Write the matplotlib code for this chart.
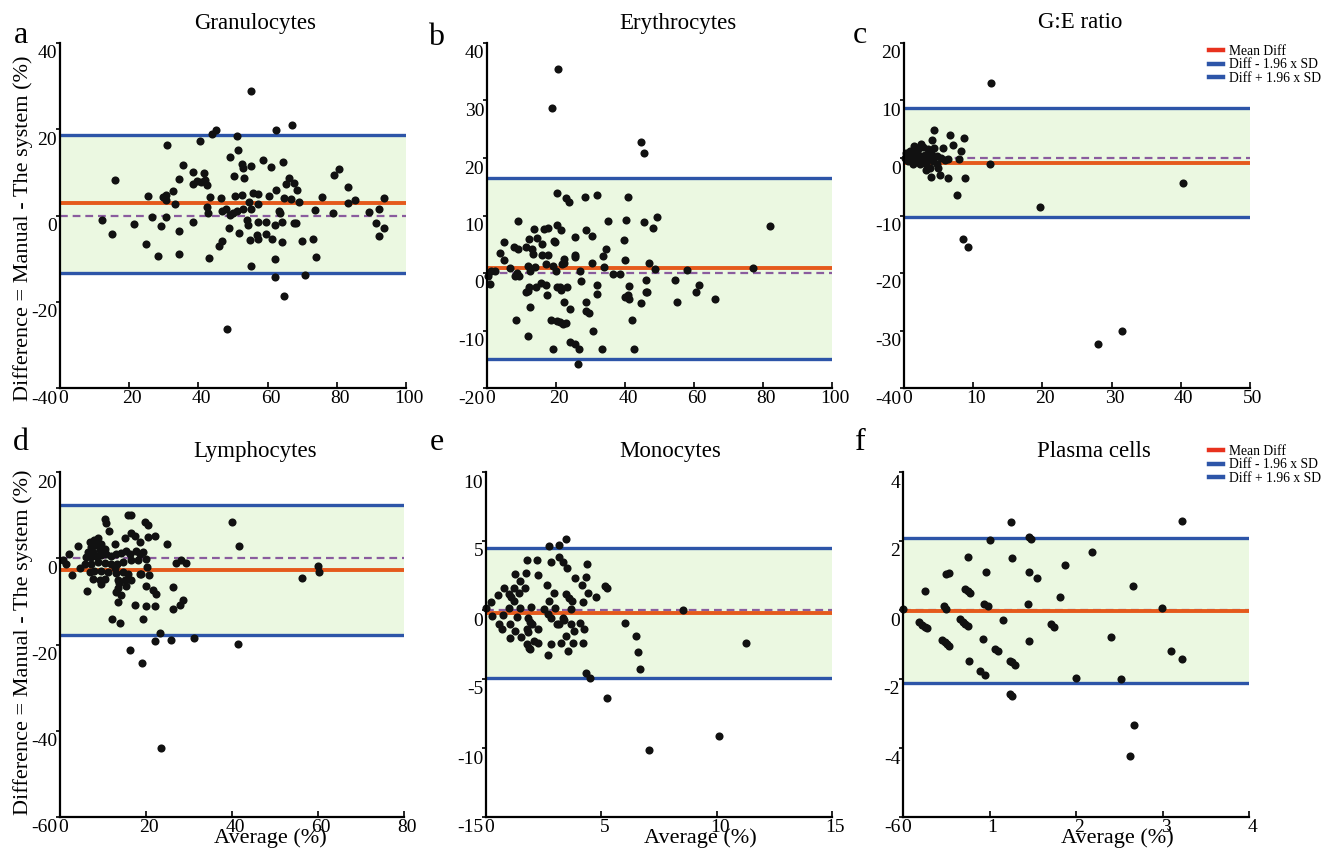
import matplotlib
matplotlib.use('Agg')
import matplotlib.pyplot as plt
import matplotlib.transforms as mtransforms
from matplotlib.lines import Line2D

plt.rcParams['font.family'] = ['Liberation Serif', 'DejaVu Serif']
plt.rcParams['axes.unicode_minus'] = False

# ---------------- data ----------------
titles = ["Granulocytes", "Erythrocytes", "G:E ratio", "Lymphocytes", "Monocytes", "Plasma cells"]
panel_letters = ["a", "b", "c", "d", "e", "f"]

gran_avg = [55.1, 67.0, 62.5, 45.1, 44.0, 51.1, 40.5, 30.8, 51.5, 49.2,
            58.6, 64.4, 80.7, 79.2, 35.6, 52.7, 55.3, 60.9, 53.0, 50.4,
            53.2, 66.1, 38.5, 41.6, 34.3, 16.0, 39.5, 40.8, 41.9, 38.3,
            42.6, 67.6, 65.3, 68.6, 83.2, 62.5, 32.6, 25.3, 29.9, 30.6,
            30.6, 33.1, 43.4, 46.5, 50.6, 52.7, 55.9, 57.1, 60.5, 64.8,
            66.7, 69.1, 75.7, 83.3, 85.3, 93.5, 42.4, 46.9, 47.9, 54.5,
            57.3, 55.1, 63.4, 63.6, 42.9, 49.1, 50.1, 51.3, 53.0, 73.8,
            78.8, 89.3, 92.3, 26.7, 30.6, 12.0, 21.5, 29.2, 38.3, 54.0,
            54.4, 57.1, 59.5, 62.1, 64.1, 67.5, 68.2, 91.4, 93.5, 92.3,
            15.1, 34.5, 48.7, 51.6, 56.9, 57.2, 55.0, 59.6, 61.2, 64.1,
            70.0, 73.2, 24.8, 46.9, 46.0, 34.4, 28.2, 43.0, 62.0, 73.9,
            55.3, 70.8, 62.1, 64.8, 48.3]
gran_diff = [28.9, 21.1, 19.9, 19.9, 18.8, 18.5, 17.2, 16.4, 15.2, 13.5,
             12.8, 12.4, 10.7, 9.5, 11.6, 12.0, 11.5, 11.3, 11.0, 9.2,
             8.6, 8.8, 10.0, 9.8, 8.5, 8.2, 7.9, 7.7, 8.3, 7.3,
             7.0, 7.5, 7.3, 5.9, 6.6, 5.9, 5.7, 4.5, 4.4, 4.8,
             3.6, 2.7, 4.2, 4.0, 4.5, 4.8, 5.3, 4.9, 4.5, 4.1,
             3.8, 3.1, 4.4, 2.8, 3.6, 4.1, 2.0, 1.1, 1.4, 3.2,
             2.7, 1.4, 1.1, 0.5, 0.5, 0.1, 0.5, 1.0, 1.4, 1.3,
             0.5, 0.7, 1.4, -0.3, -0.4, -1.0, -1.9, -2.4, -1.6, -1.0,
             -2.2, -1.6, -1.6, -2.2, -1.6, -1.7, -1.7, -1.7, -2.9, -4.7,
             -4.3, -3.7, -3.0, -4.1, -4.5, -5.4, -5.7, -4.4, -5.4, -6.2,
             -6.0, -5.4, -6.6, -5.8, -7.0, -8.9, -9.4, -9.9, -10.1, -9.7,
             -11.6, -13.7, -14.2, -18.7, -26.3]

ery_avg = [20.7, 18.7, 44.6, 45.6, 20.4, 23.0, 23.9, 28.5, 31.8, 40.9,
           9.0, 35.0, 40.4, 45.6, 49.2, 81.9, 20.3, 21.4, 13.7, 16.4,
           17.6, 28.6, 48.0, 30.3, 25.4, 14.5, 12.1, 19.4, 19.8, 39.7,
           4.8, 16.0, 7.7, 9.0, 11.2, 13.0, 13.3, 3.7, 34.5, 15.9,
           17.7, 25.4, 25.5, 33.5, 4.8, 22.4, 39.9, 17.2, 19.1, 21.7,
           22.4, 30.4, 47.1, 11.9, 14.0, 6.8, 33.8, 48.7, 57.9, 77.0,
           1.3, 2.2, 8.6, 12.6, 20.0, 27.0, 36.5, 38.6, 8.0, 9.4,
           0.3, 1.0, 46.1, 54.5, 27.2, 15.7, 14.2, 17.1, 20.3, 21.2,
           23.1, 31.9, 41.1, 61.5, 12.2, 21.5, 11.2, 12.0, 46.0, 46.5,
           60.6, 17.5, 31.8, 39.9, 40.9, 41.3, 66.2, 22.4, 28.6, 44.6,
           55.1, 12.4, 24.0, 28.7, 29.5, 8.5, 18.6, 20.2, 21.3, 22.0,
           22.9, 42.0, 30.6, 12.0, 24.0, 25.6, 26.8, 19.2, 33.2, 42.7,
           26.5]
ery_diff = [35.5, 28.7, 22.7, 20.9, 13.9, 13.0, 12.3, 13.3, 13.6, 13.3,
            9.1, 9.0, 9.3, 8.8, 9.7, 8.2, 8.4, 7.4, 7.6, 7.6,
            7.9, 7.5, 7.9, 6.5, 6.2, 6.1, 5.9, 5.6, 5.4, 5.7,
            5.4, 5.1, 4.5, 4.1, 4.6, 4.1, 3.3, 3.5, 4.1, 3.1,
            3.1, 3.2, 2.7, 2.9, 2.2, 2.4, 2.3, 1.6, 1.3, 1.6,
            1.8, 1.8, 1.8, 1.3, 1.0, 0.9, 1.0, 0.7, 0.5, 0.9,
            0.3, 0.3, 0.0, 0.3, 0.4, 0.4, -0.1, -0.2, -0.5, -0.6,
            -0.6, -1.9, -1.2, -1.2, -1.4, -1.7, -2.4, -2.1, -2.4, -2.4,
            -2.4, -2.0, -2.2, -2.1, -2.4, -3.0, -3.3, -3.1, -3.3, -3.3,
            -3.3, -3.8, -3.7, -4.1, -3.9, -4.5, -4.6, -5.0, -5.0, -5.3,
            -5.0, -5.9, -6.3, -6.6, -7.0, -8.1, -8.2, -8.3, -8.5, -8.8,
            -8.7, -8.2, -10.1, -11.0, -12.0, -12.3, -13.3, -13.3, -13.3, -13.3,
            -15.9]

ge_avg = [4.4, 6.7, 4.0, 8.7, 7.1, 5.6, 2.7, 8.3, 2.0, 3.5,
          1.3, 3.9, 0.6, 2.5, 4.7, 1.8, 3.2, 1.1, 5.4, 6.4,
          8.0, 5.9, 2.3, 3.7, 4.9, 3.9, 5.2, 6.3, 8.8, 12.4,
          0.1, 0.3, 0.8, 1.5, 2.5, 3.0, 4.2, 2.7, 1.5, 2.0,
          1.1, 4.4, 3.7, 0.6, 3.2, 4.7, 1.3, 3.2,
          12.5, 7.7, 19.7, 40.3, 8.5, 9.3, 28.1, 31.5]
ge_diff = [4.8, 4.0, 3.2, 3.4, 2.2, 1.7, 1.9, 1.2, 1.5, 1.5,
           0.9, 0.9, 0.3, 0.3, 0.3, -0.2, -0.4, -0.5, 0.0, -0.1,
           -0.1, -0.4, -1.1, -1.7, -1.7, -3.3, -3.0, -3.4, -3.4, -1.0,
           0.0, 0.9, 1.2, 2.1, 2.4, 0.6, -0.5, -0.5, 0.3, 0.6,
           0.0, 1.8, 0.0, -0.5, -1.1, -1.1, -1.1, -2.0,
           13.1, -6.5, -8.5, -4.3, -14.1, -15.4, -32.3, -30.1]

lym_avg = [10.4, 10.8, 11.3, 15.8, 16.4, 19.8, 20.4, 16.5, 17.5, 18.5,
           20.4, 22.0, 24.9, 4.2, 2.0, 0.7, 1.5, 2.8, 4.6, 6.3,
           6.9, 8.0, 8.8, 7.3, 8.4, 9.6, 6.5, 7.7, 9.2, 10.4,
           6.1, 7.3, 8.4, 9.6, 10.8, 11.9, 13.1, 14.2, 15.4, 16.2,
           17.7, 18.5, 19.3, 5.7, 7.3, 8.8, 10.4, 11.9, 13.3, 14.6,
           16.6, 18.1, 20.0, 6.9, 8.0, 9.6, 11.1, 13.1, 14.6, 15.8,
           18.9, 20.3, 7.7, 9.2, 10.4, 13.5, 15.0, 16.6, 9.6, 13.8,
           12.8, 12.7, 15.0, 13.5, 13.1, 14.2, 15.4, 20.0, 20.8, 21.6,
           22.4, 26.2, 27.0, 28.2, 29.3, 18.5,
           39.9, 41.7, 56.2, 60.1, 60.2, 28.7, 26.3, 27.9, 22.1, 19.9,
           17.5, 19.4, 12.0, 14.0, 23.2, 22.1, 25.8, 31.2, 41.5, 16.2,
           19.1, 23.5, 13.4]
lym_diff = [9.2, 8.2, 6.3, 10.0, 10.1, 8.4, 7.7, 5.9, 5.2, 3.8,
            4.9, 5.2, 3.2, 2.8, 0.9, -0.5, -1.25, -3.8, -2.2, -7.7,
            3.8, 4.3, 4.6, 2.6, 3.0, 3.4, 1.5, 1.5, 1.9, 2.2,
            0.3, 0.3, 0.5, 0.7, 1.1, 0.5, 1.1, 1.2, 1.7, 1.1,
            1.7, 1.1, 1.5, -1.25, -1.25, -0.9, -1.1, -1.25, -1.25, -0.9,
            -0.5, -0.5, -0.1, -3.2, -3.0, -3.0, -3.2, -3.4, -3.2, -3.6,
            -3.7, -2.0, -4.7, -5.1, -4.7, -5.1, -5.1, -5.1, -5.9, -5.7,
            -2.2, 3.4, 4.6, -7.0, -7.8, -8.6, -6.5, -6.5, -3.9, -7.4,
            -8.2, -6.6, -1.1, -0.5, -1.1, -3.6,
            8.5, 2.8, -4.6, -1.8, -3.2, -9.7, -11.7, -10.9, -11.1, -11.0,
            -10.9, -14.0, -14.1, -15.1, -17.3, -19.2, -19.0, -18.4, -19.8, -21.3,
            -24.2, -44.1, -10.1]

mono_avg = [3.47, 2.72, 3.18, 3.15, 3.32, 2.82, 3.53, 1.76, 2.23, 4.38,
            1.26, 1.73, 2.27, 3.87, 4.35, 1.47, 4.15, 2.63, 1.71, 0.77,
            1.23, 5.17, 5.26, 0.52, 0.98, 1.45, 2.93, 3.47, 4.42, 4.75,
            1.10, 1.23, 3.61, 3.74, 4.21, 0.23, 2.72, 1.01, 1.46, 1.97,
            2.51, 3.01, 3.70, 0.00, 8.55, 0.25, 0.74, 1.34, 1.81, 2.69,
            2.82, 3.32, 3.40, 3.06, 3.18, 0.55, 1.05, 1.90, 2.00, 3.67,
            4.08, 6.03, 0.68, 1.27, 1.78, 1.82, 2.24, 3.80, 4.25, 3.47,
            1.53, 1.05, 2.10, 2.25, 2.80, 3.27, 3.76, 4.22, 1.79, 1.88,
            1.92, 3.54, 2.69, 6.49, 6.58, 6.68, 11.26, 4.35, 4.51, 5.25,
            7.08, 10.09]
mono_diff = [5.18, 4.67, 4.72, 3.82, 3.51, 3.51, 3.05, 3.61, 3.61, 3.34,
             2.61, 2.66, 2.54, 2.32, 2.37, 2.08, 1.84, 1.84, 1.62, 1.62,
             1.62, 1.77, 1.62, 1.09, 1.16, 1.21, 1.26, 1.16, 1.23, 0.92,
             0.97, 0.68, 0.85, 0.65, 0.61, 0.61, 0.65, 0.17, 0.17, 0.24,
             0.05, 0.12, 0.05, 0.12, 0.00, -0.44, -0.36, -0.53, -0.58, -0.29,
             -0.56, -0.61, -0.73, -0.99, -1.02, -1.02, -1.04, -0.85, -1.02, -1.04,
             -0.97, -0.94, -1.38, -1.50, -1.38, -1.62, -1.38, -1.50, -1.38, -1.86,
             -1.98, -2.01, -2.27, -2.42, -2.49, -2.42, -2.37, -2.37, -2.47, -2.73,
             -2.86, -2.98, -3.29, -1.89, -3.07, -4.28, -2.42, -4.60, -4.96, -6.39,
             -10.12, -9.10]

plas_avg = [1.25, 3.23, 1.00, 1.46, 1.48, 2.19, 0.75, 1.26, 1.87, 0.50,
            0.53, 0.96, 1.46, 1.55, 0.25, 2.66, 0.72, 0.75, 0.78, 1.82,
            0.94, 0.98, 0.47, 0.50, 1.44, 2.99, 0.00, 1.16, 0.18, 0.22,
            0.25, 0.28, 0.66, 0.69, 0.72, 0.75, 1.71, 1.75, 0.93, 1.46,
            2.41, 0.45, 0.48, 0.51, 0.53, 1.06, 1.10, 3.10, 0.76, 1.24,
            1.26, 1.29, 3.23, 0.89, 0.95, 2.00, 2.52, 1.24, 1.26, 2.67,
            2.63]
plas_diff = [2.54, 2.58, 2.03, 2.11, 2.07, 1.67, 1.54, 1.51, 1.31, 1.05,
             1.08, 1.11, 1.10, 0.94, 0.54, 0.71, 0.61, 0.55, 0.49, 0.39,
             0.18, 0.12, 0.13, 0.03, 0.16, 0.06, 0.04, -0.28, -0.35, -0.43,
             -0.48, -0.53, -0.27, -0.34, -0.40, -0.45, -0.42, -0.48, -0.83, -0.89,
             -0.79, -0.87, -0.93, -0.99, -1.04, -1.12, -1.18, -1.18, -1.49, -1.47,
             -1.52, -1.58, -1.43, -1.76, -1.88, -1.97, -2.01, -2.44, -2.48, -3.33,
             -4.24]

# mean difference and limits of agreement (mean -/+ 1.96 SD)
mean_diff = [2.8, 0.9, -0.8, -2.8, -0.2, -0.03]
lower_loa = [-13.4, -14.9, -10.3, -17.9, -4.9, -2.12]
upper_loa = [18.7, 16.5, 8.7, 12.3, 4.5, 2.1]

x_ticks = [[0, 20, 40, 60, 80, 100], [0, 20, 40, 60, 80, 100], [0, 10, 20, 30, 40, 50],
           [0, 20, 40, 60, 80], [0, 5, 10, 15], [0, 1, 2, 3, 4]]
y_ticks = [[-40, -20, 0, 20, 40], [-20, -10, 0, 10, 20, 30, 40], [-40, -30, -20, -10, 0, 10, 20],
           [-60, -40, -20, 0, 20], [-15, -10, -5, 0, 5, 10], [-6, -4, -2, 0, 2, 4]]

legend_labels = ["Mean Diff", "Diff - 1.96 x SD", "Diff + 1.96 x SD"]
y_label = "Difference = Manual - The system (%)"
x_label = "Average (%)"

xs = [gran_avg, ery_avg, ge_avg, lym_avg, mono_avg, plas_avg]
ys = [gran_diff, ery_diff, ge_diff, lym_diff, mono_diff, plas_diff]

# ---------------- layout ----------------
W, H = 1323, 851
fig = plt.figure(figsize=(W / 100, H / 100), dpi=100)


def fx(px):
    return px / W


def fy(py):
    return 1 - py / H


# axes boxes in pixels: left, top, right, bottom
boxes = [(60, 43, 406, 388), (487, 43, 832, 388), (904, 43, 1250, 388),
         (60, 472, 404, 817), (486, 472, 832, 817), (903, 472, 1249, 817)]
title_pos = [(255, 23), (678, 23), (1080, 23), (255, 452), (670, 452), (1094, 452)]
letter_pos = [(14, 43), (428, 45), (853, 43), (13, 450), (430, 450), (855, 450)]

FILL = '#ebf8e1'
BLUE = '#2d55a8'
ORANGE = '#e55a1c'
RED = '#e8321e'
PURPLE = '#8a5c9e'
DOT = '#111111'

y_shift = mtransforms.ScaledTranslation(0, -0.09, fig.dpi_scale_trans)
x_shift = mtransforms.ScaledTranslation(0.03, 0, fig.dpi_scale_trans)

for i in range(6):
    l, t, r, b = boxes[i]
    ax = fig.add_axes([fx(l), fy(b), (r - l) / W, (b - t) / H])
    ax.set_xlim(x_ticks[i][0], x_ticks[i][-1])
    ax.set_ylim(y_ticks[i][0], y_ticks[i][-1])
    ax.axhspan(lower_loa[i], upper_loa[i], color=FILL, lw=0, zorder=0)
    ax.axhline(0, color=PURPLE, lw=1.6, ls=(0, (3.5, 2.2)), zorder=1)
    ax.axhline(mean_diff[i], color=ORANGE, lw=2.8, zorder=2)
    ax.axhline(upper_loa[i], color=BLUE, lw=2.4, zorder=2)
    ax.axhline(lower_loa[i], color=BLUE, lw=2.4, zorder=2)
    ax.scatter(xs[i], ys[i], s=34, color=DOT, linewidths=0, zorder=3, clip_on=False)

    for side in ['top', 'right']:
        ax.spines[side].set_visible(False)
    for side in ['left', 'bottom']:
        ax.spines[side].set_linewidth(1.6)
        ax.spines[side].set_zorder(4)
    ax.set_xticks(x_ticks[i])
    ax.set_yticks(y_ticks[i])
    ax.set_xticklabels([str(v) for v in x_ticks[i]])
    ax.set_yticklabels([str(v) for v in y_ticks[i]])
    ax.tick_params(axis='x', direction='in', length=4, width=1.2, pad=1.5, labelsize=14)
    ax.tick_params(axis='y', direction='out', length=3, width=1.2, pad=-1, labelsize=14)
    ax.set_facecolor('none')
    for lab in ax.get_yticklabels():
        lab.set_transform(lab.get_transform() + y_shift)
    for lab in ax.get_xticklabels():
        lab.set_transform(lab.get_transform() + x_shift)

    tx, ty = title_pos[i]
    fig.text(fx(tx), fy(ty), titles[i], ha='center', va='center', fontsize=16.5)
    lx, ly = letter_pos[i]
    fig.text(fx(lx), fy(ly), panel_letters[i], ha='left', va='baseline', fontsize=23)

# y axis labels
fig.text(fx(23), fy(228), y_label, rotation=90, ha='center', va='center', fontsize=16)
fig.text(fx(23), fy(642), y_label, rotation=90, ha='center', va='center', fontsize=16)
# x axis labels (they sit over the tick labels, as in the reference)
for px in (270, 700, 1117):
    fig.text(fx(px), fy(838), x_label, ha='center', va='center', fontsize=16)

# legends for panels c and f
handles = [Line2D([], [], color=RED, lw=3.2),
           Line2D([], [], color=BLUE, lw=3.2),
           Line2D([], [], color=BLUE, lw=3.2)]
for top in (45, 445):
    fig.legend(handles, legend_labels, loc='upper left',
               bbox_to_anchor=(fx(1209), fy(top)), bbox_transform=fig.transFigure,
               frameon=False, fontsize=9.8, handlelength=1.05, handletextpad=0.45,
               labelspacing=0.02, borderaxespad=0, borderpad=0)

fig.savefig('out.png', dpi=100)
